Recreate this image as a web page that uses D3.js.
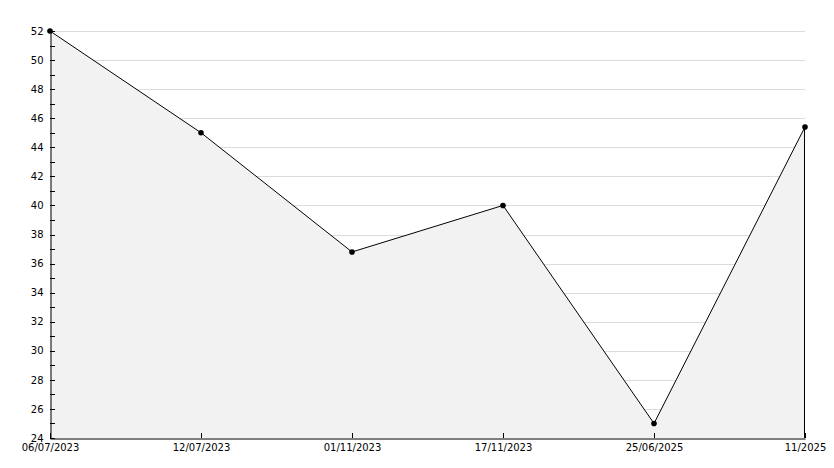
<!DOCTYPE html>
<html>
<head>
<meta charset="utf-8">
<script src="https://cdn.jsdelivr.net/npm/d3@7"></script>
<style>
  body { margin: 0; background: #fff; }
  text { font-family: "DejaVu Sans", sans-serif; font-size: 10px; fill: #000; }
</style>
</head>
<body>
<div id="chart"></div>
<script>
// chart data
var dates = ["06/07/2023", "12/07/2023", "01/11/2023", "17/11/2023", "25/06/2025", "11/2025"];
var values = [52, 45, 36.8, 40, 25, 45.4];
var yTicks = [24, 26, 28, 30, 32, 34, 36, 38, 40, 42, 44, 46, 48, 50, 52];
var yMinorTicks = [25, 27, 29, 31, 33, 35, 37, 39, 41, 43, 45, 47, 49, 51];

var svgWidth = 834;
var svgHeight = 468;

var margin = {
    top: 31,
    right: 29,
    bottom: 30,
    left: 50
};

var width = svgWidth - margin.left - margin.right;
var height = svgHeight - margin.top - margin.bottom;

var svg = d3.select("#chart")
            .append("svg")
            .attr("width", svgWidth)
            .attr("height", svgHeight);

var chartGroup = svg.append("g")
                    .attr("transform", `translate(${margin.left}, ${margin.top})`);

var xScale = d3.scalePoint()
               .domain(dates)
               .range([0, width]);

var yScale = d3.scaleLinear()
               .domain([24, 52])
               .range([height, 0]);

// gridlines
chartGroup.append("g")
          .selectAll("line")
          .data(yTicks.filter(d => d > 24))
          .enter()
          .append("line")
          .attr("x1", 0)
          .attr("x2", width)
          .attr("y1", d => Math.round(yScale(d)) + 0.5)
          .attr("y2", d => Math.round(yScale(d)) + 0.5)
          .attr("stroke", "#dcdcdc")
          .attr("stroke-width", 1);

var data = dates.map((d, i) => ({date: d, value: values[i]}));

var area = d3.area()
             .x(d => xScale(d.date))
             .y0(height)
             .y1(d => yScale(d.value));

chartGroup.append("path")
          .datum(data)
          .attr("d", area)
          .attr("fill", "#f2f2f2")
          .attr("stroke", "none");

var line = d3.line()
             .x(d => xScale(d.date))
             .y(d => yScale(d.value));

chartGroup.append("path")
          .datum(data)
          .attr("d", line)
          .attr("fill", "none")
          .attr("stroke", "#000")
          .attr("stroke-width", 1);

// right edge of the filled area
chartGroup.append("line")
          .attr("x1", xScale(dates[dates.length - 1]) - 0.5)
          .attr("x2", xScale(dates[dates.length - 1]) - 0.5)
          .attr("y1", yScale(values[values.length - 1]))
          .attr("y2", height)
          .attr("stroke", "#000");

// y axis
var leftAxis = d3.axisLeft(yScale)
                 .tickValues(yTicks)
                 .tickSize(0)
                 .tickPadding(7)
                 .tickFormat(d3.format("d"));

var yAxisG = chartGroup.append("g")
                       .attr("transform", "translate(0.5, 0)")
                       .call(leftAxis);
yAxisG.select(".domain").attr("stroke", "#000");
yAxisG.selectAll("text").style("font-size", "10px");

chartGroup.append("g")
          .selectAll("line")
          .data(yTicks.concat(yMinorTicks))
          .enter()
          .append("line")
          .attr("x1", 0)
          .attr("x2", 5)
          .attr("y1", d => Math.round(yScale(d)) + 0.5)
          .attr("y2", d => Math.round(yScale(d)) + 0.5)
          .attr("stroke", "#000");

// x axis
var bottomAxis = d3.axisBottom(xScale)
                   .tickSize(0)
                   .tickPadding(5);

var xAxisG = chartGroup.append("g")
                       .attr("transform", `translate(0, ${height + 0.5})`)
                       .call(bottomAxis);
xAxisG.select(".domain").attr("stroke", "#000");

chartGroup.append("g")
          .selectAll("line")
          .data(dates)
          .enter()
          .append("line")
          .attr("x1", d => Math.round(xScale(d)) + 0.5)
          .attr("x2", d => Math.round(xScale(d)) + 0.5)
          .attr("y1", height - 5)
          .attr("y2", height)
          .attr("stroke", "#000");

// markers
chartGroup.selectAll("circle")
          .data(data)
          .enter()
          .append("circle")
          .attr("cx", d => xScale(d.date))
          .attr("cy", d => yScale(d.value))
          .attr("r", 2.8)
          .attr("fill", "#000");
</script>
</body>
</html>
